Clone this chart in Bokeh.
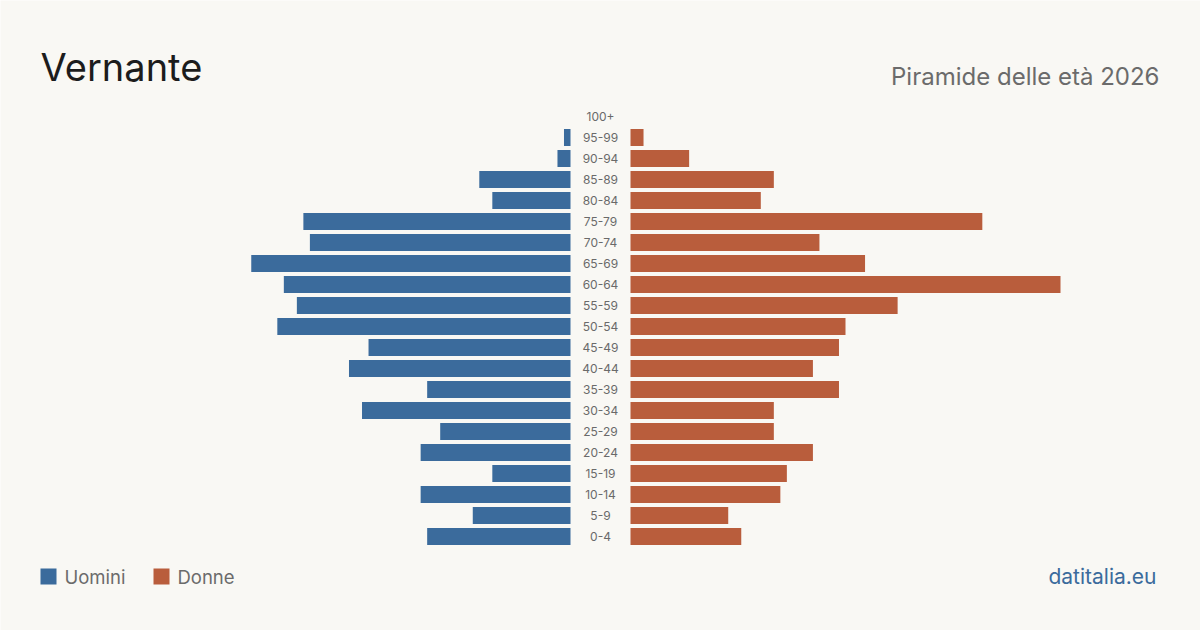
from bokeh.plotting import figure
from bokeh.models import Range1d
from bokeh.core.properties import value
from bokeh.embed import file_html
from bokeh.resources import INLINE

# Population pyramid, Vernante 2026
age_groups = ["0-4", "5-9", "10-14", "15-19", "20-24", "25-29", "30-34", "35-39",
              "40-44", "45-49", "50-54", "55-59", "60-64", "65-69", "70-74", "75-79",
              "80-84", "85-89", "90-94", "95-99", "100+"]
men = [22, 15, 23, 12, 23, 20, 32, 22, 34, 31, 45, 42, 44, 49, 40, 41, 12, 14, 2, 1, 0]
women = [17, 15, 23, 24, 28, 22, 22, 32, 28, 32, 33, 41, 66, 36, 29, 54, 20, 22, 9, 2, 0]

BG = "#f9f8f4"
BLUE = "#3b6b9c"
RUST = "#b95d3c"
FONT = "Inter"

W, H = 1200, 630
p = figure(width=W, height=H, x_range=Range1d(0, W), y_range=Range1d(0, H),
           output_backend="svg", toolbar_location=None, min_border=0)
p.background_fill_color = BG
p.border_fill_color = BG
p.outline_line_color = None
p.axis.visible = False
p.grid.visible = False

# scales: bars grow outward from a central label column
max_val = max(max(men), max(women))
half = 430.0  # px for the longest bar
ppu = half / max_val
p.extra_x_ranges = {
    "men": Range1d(start=570 / ppu, end=(570 - W) / ppu),
    "women": Range1d(start=-630 / ppu, end=(W - 630) / ppu),
}
row_px = 21.0
base_px = H - 536
p.extra_y_ranges = {"rows": Range1d(start=-base_px / row_px, end=(H - base_px) / row_px)}

rows = list(range(len(age_groups)))

p.hbar(y=rows, left=0, right=men, height=0.81, color=BLUE, line_color=None,
       x_range_name="men", y_range_name="rows")
p.hbar(y=rows, left=0, right=women, height=0.81, color=RUST, line_color=None,
       x_range_name="women", y_range_name="rows")

p.text(x=[600] * len(rows), y=rows, text=age_groups, y_range_name="rows",
       text_align="center", text_baseline="middle", text_color="#6a6a6a",
       text_font=value(FONT), text_font_size=value("12px"))

# title and subtitle
p.text(x=[40], y=[H - 66], text=["Vernante"], text_font=value(FONT),
       text_font_size=value("38px"), text_color="#1c1c1c", text_baseline="middle")
p.text(x=[1159], y=[H - 76], text=["Piramide delle età 2026"], text_font=value(FONT),
       text_font_size=value("24px"), text_color="#6b6b6b", text_align="right",
       text_baseline="middle")

# legend
p.rect(x=[48, 161], y=[H - 576, H - 576], width=16, height=16,
       width_units="screen", height_units="screen", color=[BLUE, RUST], line_color=None)
p.text(x=[64, 177], y=[H - 576, H - 576], text=["Uomini", "Donne"], text_font=value(FONT),
       text_font_size=value("18.5px"), text_color="#6b6b6b", text_baseline="middle")

# source
p.text(x=[1156], y=[H - 576], text=["datitalia.eu"], text_font=value(FONT),
       text_font_size=value("21px"), text_color=BLUE, text_align="right",
       text_baseline="middle")

open("out.html", "w").write(file_html(p, INLINE))
